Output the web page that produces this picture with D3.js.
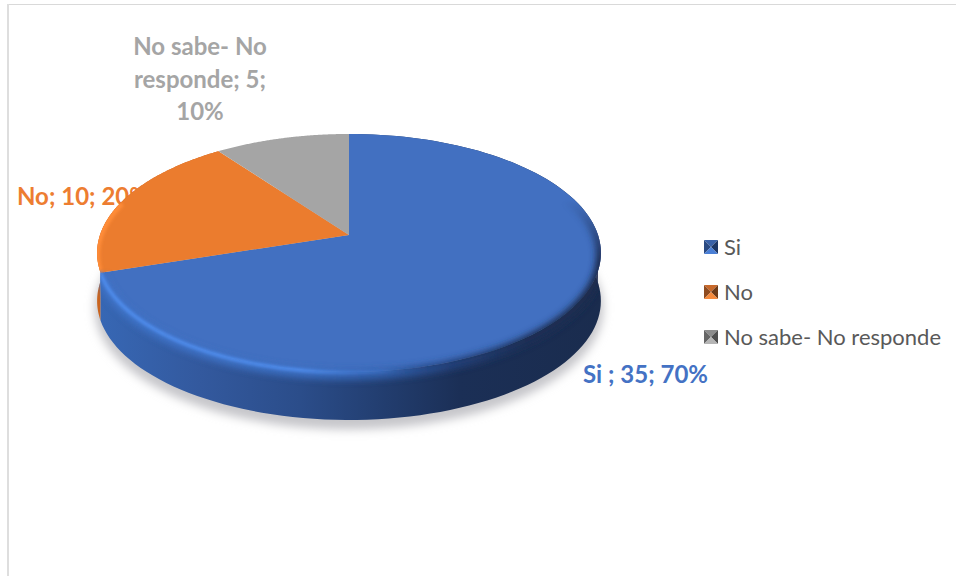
<!DOCTYPE html>
<html lang="es">
<head>
<meta charset="utf-8">
<title>Gráfico circular</title>
<script src="https://cdn.jsdelivr.net/npm/d3@7/dist/d3.min.js"></script>
<style>
  html, body { margin: 0; padding: 0; background: #fff; }
  svg { display: block; }
  text { font-family: Lato, "Open Sans", sans-serif; }
</style>
</head>
<body>
<script>
// Survey answers
const categories = ["Si ", "No", "No sabe- No responde"];
const values = [35, 10, 5];
const percents = [70, 20, 10];
const faceColors = ["#4270c1", "#eb7c2e", "#a5a5a5"];
const labelColors = ["#4472c4", "#ed7d31", "#a5a5a5"];
const markerShades = [
  ["#3a62a8", "#2a4a82", "#1d3766", "#4a7fd6"],
  ["#c8692a", "#8f4c20", "#6e3b18", "#f58a3c"],
  ["#8c8c8c", "#666666", "#4f4f4f", "#b5b5b5"]
];

const width = 956, height = 576;
const svg = d3.select("body").append("svg").attr("width", width).attr("height", height);
const defs = svg.append("defs");

// Tilted disc: a unit circle seen in perspective, so the pie's centre sits above the ellipse's centre
const disc = { cx: 349, cy: 235, X: 249, Y: 116.3, k: 0.151, depth: 48 };
const project = (angle, drop = 0) => {
  const u = Math.sin(angle), v = -Math.cos(angle), w = 1 - disc.k * v;
  return [disc.cx + disc.X * u / w, disc.cy + disc.Y * v / w + drop];
};
const arcPoints = (a0, a1, drop = 0) =>
  d3.range(0, 121).map(i => project(a0 + (a1 - a0) * i / 120, drop));
const line = d3.line();
const TAU = Math.PI * 2;

const arcs = d3.pie().sort(null).value(d => d)(values);

// Filters and gradients
const blur = (id, sd) => defs.append("filter").attr("id", id)
  .attr("filterUnits", "userSpaceOnUse")
  .attr("x", 0).attr("y", 0).attr("width", width).attr("height", height)
  .append("feGaussianBlur").attr("stdDeviation", sd);
blur("soft-shadow", 5);
blur("soft-rim", 1.6);
blur("soft-rim-wide", 3.4);

const hGradient = (id, x1, x2, stops) => {
  const g = defs.append("linearGradient").attr("id", id)
    .attr("gradientUnits", "userSpaceOnUse")
    .attr("x1", x1).attr("x2", x2).attr("y1", 0).attr("y2", 0);
  stops.forEach(([o, c, a = 1]) => g.append("stop").attr("offset", o)
    .attr("stop-color", c).attr("stop-opacity", a));
};
hGradient("side-blue", 100, 600, [
  [0, "#3767b4"], [0.2, "#33599e"], [0.4, "#2b4d8a"], [0.55, "#233f72"],
  [0.72, "#1b2f56"], [1, "#1a2c4e"]
]);
hGradient("rim-soft", 100, 602, [
  [0, "#3f73c8"], [0.42, "#3a6cbd"], [0.58, "#2f5ba4"], [0.7, "#24417a"],
  [0.85, "#1b2f56"], [1, "#1a2c4e"]
]);
hGradient("rim-bright", 100, 602, [
  [0, "#4f8dee"], [0.4, "#4f8dee"], [0.56, "#3f76cf", 0.7], [0.66, "#2a4a84", 0],
  [1, "#1a2c4e", 0]
]);

// Vertical fade so the dark bevel eases in along the right-hand edge
const fade = defs.append("linearGradient").attr("id", "rim-fade")
  .attr("gradientUnits", "userSpaceOnUse")
  .attr("x1", 0).attr("x2", 0).attr("y1", 200).attr("y2", 262);
fade.append("stop").attr("offset", 0).attr("stop-color", "#fff").attr("stop-opacity", 0);
fade.append("stop").attr("offset", 1).attr("stop-color", "#fff").attr("stop-opacity", 1);
defs.append("mask").attr("id", "rim-mask")
  .attr("maskUnits", "userSpaceOnUse")
  .attr("x", 0).attr("y", 0).attr("width", width).attr("height", height)
  .append("rect").attr("width", width).attr("height", height).attr("fill", "url(#rim-fade)");

// Frame lines along the top and left
svg.append("line").attr("x1", 8).attr("x2", width).attr("y1", 4.5).attr("y2", 4.5)
  .attr("stroke", "#d9d9d9").attr("stroke-width", 1);
svg.append("line").attr("x1", 8).attr("x2", 8).attr("y1", 4).attr("y2", height)
  .attr("stroke", "#dedede").attr("stroke-width", 2);

// Labels: the "No" label runs underneath the pie
const labelLines = [
  [`${categories[0]}; ${values[0]}; ${percents[0]}%`],
  [`${categories[1]}; ${values[1]}; ${percents[1]}%`],
  ["No sabe- No", `responde; ${values[2]};`, `${percents[2]}%`]
];
const labelSpots = [
  { x: 583, y: 383, anchor: "start" },
  { x: 17, y: 205, anchor: "start" },
  { x: 200, y: 55, anchor: "middle" }
];
const drawLabel = i => {
  const t = svg.append("text")
    .attr("x", labelSpots[i].x).attr("y", labelSpots[i].y)
    .attr("text-anchor", labelSpots[i].anchor)
    .attr("fill", labelColors[i])
    .attr("font-size", 24).attr("font-weight", 700);
  labelLines[i].forEach((s, n) => t.append("tspan")
    .attr("x", labelSpots[i].x).attr("dy", n ? 32.5 : 0).text(s));
};
[1, 2].forEach(drawLabel);

// Soft shadow under the disc
svg.append("path")
  .attr("d", line(arcPoints(0, TAU, disc.depth + 7)) + "Z")
  .attr("fill", "#c6c6ca").attr("stroke", "#c6c6ca").attr("stroke-width", 5)
  .attr("filter", "url(#soft-shadow)");

// Side walls, back to front
[1, 0].forEach(i => {
  const a = arcs[i];
  svg.append("path")
    .attr("d", line([...arcPoints(a.startAngle, a.endAngle),
                     ...arcPoints(a.endAngle, a.startAngle, disc.depth)]) + "Z")
    .attr("fill", i === 0 ? "url(#side-blue)" : "#c9641f");
});

// Top faces
const faces = svg.append("g");
arcs.forEach((a, i) => {
  faces.append("path")
    .attr("d", line([[disc.cx, disc.cy], ...arcPoints(a.startAngle, a.endAngle)]) + "Z")
    .attr("fill", faceColors[i]);
});

// Bevelled edge of the disc, kept inside the outline of the solid
const clip = defs.append("clipPath").attr("id", "solid-clip");
clip.append("path").attr("d", line(arcPoints(0, TAU)) + "Z");
clip.append("path").attr("d", line([...arcPoints(Math.PI / 2, 1.5 * Math.PI),
  ...arcPoints(1.5 * Math.PI, Math.PI / 2, disc.depth)]) + "Z");
const rims = svg.append("g").attr("clip-path", "url(#solid-clip)");
rims.append("path")
  .attr("d", line(arcPoints(arcs[1].startAngle + 0.03, arcs[1].startAngle + 0.62, 2)))
  .attr("fill", "none").attr("stroke", "#ff8c38").attr("stroke-width", 6)
  .attr("filter", "url(#soft-rim)");
rims.append("g").attr("mask", "url(#rim-mask)").append("path")
  .attr("d", line(arcPoints(Math.PI * 0.38, arcs[0].endAngle - 0.005, 3)))
  .attr("fill", "none").attr("stroke", "url(#rim-soft)").attr("stroke-width", 10)
  .attr("filter", "url(#soft-rim-wide)");
rims.append("path")
  .attr("d", line(arcPoints(Math.PI * 0.75, arcs[0].endAngle - 0.005, 0.5)))
  .attr("fill", "none").attr("stroke", "url(#rim-bright)").attr("stroke-width", 3.5)
  .attr("stroke-linecap", "round").attr("filter", "url(#soft-rim)");

// Legend
const legendY = d3.scalePoint().domain(d3.range(categories.length)).range([247, 337]);
const legend = svg.append("g");
categories.forEach((c, i) => {
  const y = legendY(i), x = 711, r = 7;
  const corners = [[x - r, y - r], [x + r, y - r], [x + r, y + r], [x - r, y + r]];
  const order = [[0, 1], [3, 0], [1, 2], [2, 3]]; // top, left, right, bottom
  order.forEach(([p, q], n) => legend.append("path")
    .attr("d", line([corners[p], corners[q], [x, y]]) + "Z")
    .attr("fill", markerShades[i][n]));
  legend.append("text").attr("x", 724).attr("y", y + 7.5)
    .attr("fill", "#595959").attr("font-size", 22).text(c.trim());
});

// Value label for the largest slice sits in front of the shadow
drawLabel(0);
</script>
</body>
</html>
